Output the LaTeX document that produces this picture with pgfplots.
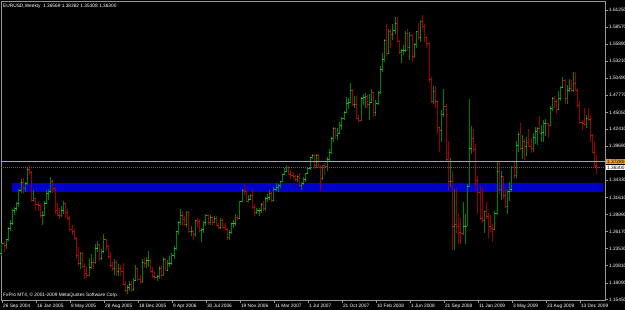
\documentclass[border=0pt]{standalone}
\usepackage{fontspec}
\setmainfont{Liberation Sans}
\usepackage{pgfplots}
\usepackage{pgfplotstable}
\pgfplotsset{compat=1.18}
\definecolor{upc}{RGB}{0,128,0}
\definecolor{upt}{RGB}{20,200,20}
\definecolor{dnc}{RGB}{150,0,0}
\definecolor{dnt}{RGB}{200,15,15}
\definecolor{band}{RGB}{0,0,200}
\definecolor{hline}{RGB}{240,160,30}
\definecolor{frame}{RGB}{150,150,150}
\definecolor{bidc}{RGB}{95,95,95}
\newcommand\tf{\fontsize{4.8bp}{5.6bp}\selectfont}
\pgfplotstableread{
i o h l c
0 1.2270 1.2440 1.2230 1.2430
1 1.2430 1.2460 1.2300 1.2400
2 1.2400 1.2510 1.2340 1.2500
3 1.2500 1.2690 1.2470 1.2670
4 1.2670 1.2810 1.2630 1.2750
5 1.2750 1.2970 1.2720 1.2960
6 1.2960 1.3010 1.2880 1.2980
7 1.2980 1.3080 1.2950 1.3060
8 1.3060 1.3290 1.3010 1.3270
9 1.3270 1.3450 1.3230 1.3400
10 1.3400 1.3460 1.3220 1.3300
11 1.3300 1.3400 1.3250 1.3390
12 1.3390 1.3620 1.3350 1.3600
13 1.3600 1.3667 1.3520 1.3560
14 1.3560 1.3580 1.3090 1.3120
15 1.3120 1.3270 1.3110 1.3140
16 1.3140 1.3150 1.2950 1.3050
17 1.3050 1.3100 1.2940 1.3040
18 1.3040 1.3060 1.2840 1.2870
19 1.2870 1.2950 1.2730 1.2870
20 1.2870 1.3110 1.2860 1.3060
21 1.3060 1.3270 1.3050 1.3230
22 1.3230 1.3300 1.3120 1.3250
23 1.3250 1.3480 1.3230 1.3420
24 1.3420 1.3440 1.3230 1.3300
25 1.3300 1.3320 1.2900 1.2950
26 1.2950 1.3070 1.2860 1.2880
27 1.2880 1.2990 1.2820 1.2870
28 1.2870 1.3020 1.2850 1.2950
29 1.2950 1.3110 1.2900 1.3060
30 1.3060 1.3070 1.2830 1.2920
31 1.2920 1.2970 1.2800 1.2830
32 1.2830 1.2870 1.2630 1.2650
33 1.2650 1.2720 1.2560 1.2620
34 1.2620 1.2660 1.2480 1.2520
35 1.2520 1.2530 1.2180 1.2250
36 1.2250 1.2370 1.2080 1.2120
37 1.2120 1.2300 1.2030 1.2270
38 1.2270 1.2300 1.2050 1.2070
39 1.2070 1.2130 1.1870 1.1960
40 1.1960 1.2080 1.1880 1.1930
41 1.1930 1.2200 1.1920 1.2060
42 1.2060 1.2260 1.2020 1.2140
43 1.2140 1.2200 1.2020 1.2130
44 1.2130 1.2420 1.2100 1.2360
45 1.2360 1.2470 1.2300 1.2420
46 1.2420 1.2430 1.2150 1.2200
47 1.2200 1.2350 1.2170 1.2300
48 1.2300 1.2580 1.2280 1.2500
49 1.2500 1.2520 1.2320 1.2390
50 1.2390 1.2410 1.2180 1.2230
51 1.2230 1.2290 1.2050 1.2080
52 1.2080 1.2140 1.1990 1.2030
53 1.2030 1.2180 1.1940 1.2130
54 1.2130 1.2170 1.1920 1.1990
55 1.1990 1.2100 1.1910 1.2040
56 1.2040 1.2090 1.1910 1.1990
57 1.1990 1.2130 1.1780 1.1790
58 1.1790 1.1840 1.1670 1.1690
59 1.1690 1.1780 1.1640 1.1730
60 1.1730 1.1830 1.1680 1.1790
61 1.1790 1.1830 1.1660 1.1710
62 1.1710 1.1890 1.1680 1.1850
63 1.1850 1.2090 1.1830 1.2040
64 1.2040 1.2050 1.1830 1.1860
65 1.1860 1.1930 1.1790 1.1840
66 1.1840 1.2180 1.1800 1.2140
67 1.2140 1.2200 1.2040 1.2120
68 1.2120 1.2220 1.2040 1.2160
69 1.2160 1.2320 1.2060 1.2170
70 1.2170 1.2180 1.1970 1.1990
71 1.1990 1.2060 1.1880 1.1910
72 1.1910 1.1980 1.1860 1.1900
73 1.1900 1.1940 1.1830 1.1910
74 1.1910 1.2080 1.1870 1.2030
75 1.2030 1.2090 1.1890 1.1920
76 1.1920 1.2220 1.1920 1.2180
77 1.2180 1.2200 1.1990 1.2010
78 1.2010 1.2170 1.2000 1.2120
79 1.2120 1.2230 1.2060 1.2120
80 1.2120 1.2280 1.2090 1.2240
81 1.2240 1.2390 1.2190 1.2350
82 1.2350 1.2630 1.2330 1.2620
83 1.2620 1.2780 1.2560 1.2760
84 1.2760 1.2980 1.2720 1.2880
85 1.2880 1.2950 1.2720 1.2810
86 1.2810 1.2860 1.2700 1.2730
87 1.2730 1.2950 1.2690 1.2920
88 1.2920 1.2950 1.2600 1.2620
89 1.2620 1.2700 1.2550 1.2620
90 1.2620 1.2640 1.2480 1.2570
91 1.2570 1.2810 1.2530 1.2790
92 1.2790 1.2830 1.2670 1.2780
93 1.2780 1.2820 1.2610 1.2640
94 1.2640 1.2680 1.2460 1.2660
95 1.2660 1.2780 1.2590 1.2760
96 1.2760 1.2890 1.2700 1.2880
97 1.2880 1.2900 1.2730 1.2760
98 1.2760 1.2880 1.2720 1.2850
99 1.2850 1.2860 1.2730 1.2760
100 1.2760 1.2870 1.2750 1.2830
101 1.2830 1.2860 1.2700 1.2720
102 1.2720 1.2760 1.2660 1.2690
103 1.2690 1.2830 1.2660 1.2800
104 1.2800 1.2830 1.2660 1.2690
105 1.2690 1.2760 1.2640 1.2660
106 1.2660 1.2670 1.2480 1.2530
107 1.2530 1.2640 1.2490 1.2610
108 1.2610 1.2760 1.2580 1.2750
109 1.2750 1.2800 1.2680 1.2750
110 1.2750 1.2900 1.2710 1.2840
111 1.2840 1.2880 1.2790 1.2830
112 1.2830 1.3110 1.2820 1.3090
113 1.3090 1.3300 1.3080 1.3270
114 1.3270 1.3370 1.3200 1.3260
115 1.3260 1.3280 1.3080 1.3100
116 1.3100 1.3200 1.3080 1.3130
117 1.3130 1.3220 1.3120 1.3200
118 1.3200 1.3290 1.2990 1.3000
119 1.3000 1.3050 1.2870 1.2930
120 1.2930 1.3000 1.2900 1.2950
121 1.2950 1.3000 1.2870 1.2960
122 1.2960 1.3070 1.2920 1.3050
123 1.3050 1.3100 1.2940 1.2990
124 1.2990 1.3160 1.2940 1.3140
125 1.3140 1.3220 1.3090 1.3160
126 1.3160 1.3270 1.3120 1.3220
127 1.3220 1.3240 1.3080 1.3120
128 1.3120 1.3330 1.3100 1.3290
129 1.3290 1.3390 1.3260 1.3320
130 1.3320 1.3380 1.3240 1.3350
131 1.3350 1.3420 1.3310 1.3410
132 1.3410 1.3530 1.3400 1.3520
133 1.3520 1.3620 1.3510 1.3580
134 1.3580 1.3680 1.3560 1.3630
135 1.3630 1.3650 1.3510 1.3530
136 1.3530 1.3600 1.3450 1.3510
137 1.3510 1.3560 1.3450 1.3500
138 1.3500 1.3510 1.3420 1.3440
139 1.3440 1.3520 1.3400 1.3500
140 1.3500 1.3540 1.3330 1.3350
141 1.3350 1.3410 1.3270 1.3380
142 1.3380 1.3480 1.3360 1.3450
143 1.3450 1.3550 1.3400 1.3540
144 1.3540 1.3640 1.3530 1.3620
145 1.3620 1.3800 1.3600 1.3790
146 1.3790 1.3850 1.3760 1.3830
147 1.3830 1.3850 1.3610 1.3660
148 1.3660 1.3840 1.3630 1.3830
149 1.3830 1.3850 1.3620 1.3640
150 1.3640 1.3680 1.3260 1.3460
151 1.3460 1.3680 1.3440 1.3670
152 1.3670 1.3700 1.3520 1.3650
153 1.3650 1.3800 1.3580 1.3770
154 1.3770 1.3930 1.3730 1.3870
155 1.3870 1.4120 1.3850 1.4090
156 1.4090 1.4280 1.4040 1.4260
157 1.4260 1.4280 1.4080 1.4140
158 1.4140 1.4260 1.4070 1.4180
159 1.4180 1.4350 1.4170 1.4300
160 1.4300 1.4430 1.4230 1.4410
161 1.4410 1.4530 1.4380 1.4500
162 1.4500 1.4750 1.4490 1.4650
163 1.4650 1.4730 1.4560 1.4660
164 1.4660 1.4970 1.4650 1.4850
165 1.4850 1.4880 1.4600 1.4630
166 1.4630 1.4760 1.4580 1.4640
167 1.4640 1.4760 1.4400 1.4410
168 1.4410 1.4460 1.4340 1.4380
169 1.4380 1.4750 1.4370 1.4720
170 1.4720 1.4790 1.4620 1.4740
171 1.4740 1.4810 1.4580 1.4760
172 1.4760 1.4780 1.4570 1.4630
173 1.4630 1.4790 1.4380 1.4670
174 1.4670 1.4870 1.4650 1.4820
175 1.4820 1.4830 1.4440 1.4500
176 1.4500 1.4700 1.4450 1.4650
177 1.4650 1.4850 1.4620 1.4820
178 1.4820 1.5240 1.4800 1.5180
179 1.5180 1.5450 1.5140 1.5350
180 1.5350 1.5660 1.5310 1.5650
181 1.5650 1.5900 1.5390 1.5440
182 1.5440 1.5820 1.5430 1.5790
183 1.5790 1.5830 1.5520 1.5740
184 1.5740 1.5910 1.5650 1.5800
185 1.5800 1.6020 1.5750 1.5920
186 1.5920 1.6020 1.5620 1.5630
187 1.5630 1.5650 1.5430 1.5460
188 1.5460 1.5510 1.5290 1.5480
189 1.5480 1.5570 1.5420 1.5480
190 1.5480 1.5790 1.5460 1.5760
191 1.5760 1.5820 1.5480 1.5540
192 1.5540 1.5780 1.5330 1.5720
193 1.5720 1.5750 1.5300 1.5390
194 1.5390 1.5600 1.5360 1.5580
195 1.5580 1.5800 1.5530 1.5790
196 1.5790 1.5920 1.5650 1.5690
197 1.5690 1.5960 1.5620 1.5940
198 1.5940 1.6040 1.5820 1.5860
199 1.5860 1.5900 1.5620 1.5700
200 1.5700 1.5700 1.5530 1.5600
201 1.5600 1.5620 1.4980 1.5020
202 1.5020 1.5060 1.4660 1.4680
203 1.4680 1.4930 1.4630 1.4840
204 1.4840 1.4920 1.4580 1.4680
205 1.4680 1.4680 1.4160 1.4270
206 1.4270 1.4280 1.3880 1.4220
207 1.4220 1.4540 1.4030 1.4480
208 1.4480 1.4870 1.4440 1.4600
209 1.4600 1.4640 1.3740 1.3760
210 1.3760 1.4050 1.3260 1.3410
211 1.3410 1.3780 1.3330 1.3410
212 1.3410 1.3580 1.2330 1.2700
213 1.2700 1.3300 1.2330 1.2730
214 1.2730 1.3300 1.2600 1.2710
215 1.2710 1.2890 1.2420 1.2610
216 1.2610 1.2830 1.2430 1.2590
217 1.2590 1.3090 1.2560 1.2700
218 1.2700 1.2900 1.2420 1.2700
219 1.2700 1.3380 1.2700 1.3340
220 1.3340 1.4720 1.3330 1.3940
221 1.3940 1.4290 1.3850 1.4090
222 1.4090 1.4240 1.3880 1.3920
223 1.3920 1.4000 1.3310 1.3430
224 1.3430 1.3500 1.2890 1.3240
225 1.3240 1.3340 1.2800 1.2830
226 1.2830 1.3310 1.2760 1.2800
227 1.2800 1.2940 1.2600 1.2940
228 1.2940 1.3090 1.2820 1.2860
229 1.2860 1.2920 1.2520 1.2710
230 1.2710 1.2880 1.2610 1.2670
231 1.2670 1.2740 1.2460 1.2660
232 1.2660 1.2950 1.2640 1.2910
233 1.2910 1.3740 1.2880 1.3580
234 1.3580 1.3740 1.3220 1.3280
235 1.3280 1.3580 1.3120 1.3490
236 1.3490 1.3500 1.3140 1.3200
237 1.3200 1.3310 1.2990 1.3020
238 1.3020 1.3270 1.2890 1.3260
239 1.3260 1.3400 1.3110 1.3280
240 1.3280 1.3650 1.3250 1.3640
241 1.3640 1.3740 1.3450 1.3510
242 1.3510 1.4050 1.3470 1.3990
243 1.3990 1.4190 1.3880 1.4150
244 1.4150 1.4340 1.3920 1.3930
245 1.3930 1.4140 1.3760 1.4040
246 1.4040 1.4080 1.3750 1.3970
247 1.3970 1.4110 1.3820 1.4030
248 1.4030 1.4240 1.3960 1.3970
249 1.3970 1.4100 1.3860 1.3930
250 1.3930 1.4180 1.3880 1.4110
251 1.4110 1.4280 1.4010 1.4200
252 1.4200 1.4270 1.3990 1.4260
253 1.4260 1.4450 1.4180 1.4180
254 1.4180 1.4300 1.4040 1.4190
255 1.4190 1.4380 1.4040 1.4330
256 1.4330 1.4400 1.4130 1.4330
257 1.4330 1.4340 1.4100 1.4300
258 1.4300 1.4600 1.4290 1.4570
259 1.4570 1.4750 1.4530 1.4720
260 1.4720 1.4760 1.4580 1.4680
261 1.4680 1.4720 1.4480 1.4550
262 1.4550 1.4840 1.4540 1.4720
263 1.4720 1.4930 1.4690 1.4900
264 1.4900 1.5060 1.4890 1.5010
265 1.5010 1.5030 1.4630 1.4720
266 1.4720 1.4940 1.4630 1.4850
267 1.4850 1.5030 1.4830 1.4890
268 1.4890 1.5010 1.4820 1.4860
269 1.4860 1.5140 1.4830 1.4970
270 1.4970 1.5140 1.4840 1.4860
271 1.4860 1.4870 1.4580 1.4610
272 1.4610 1.4690 1.4330 1.4340
273 1.4340 1.4380 1.4220 1.4330
274 1.4330 1.4580 1.4300 1.4320
275 1.4320 1.4460 1.4260 1.4410
276 1.4410 1.4580 1.4370 1.4390
277 1.4390 1.4460 1.4030 1.4140
278 1.4140 1.4160 1.3870 1.3870
279 1.3870 1.4040 1.3640 1.3660
280 1.36569 1.38382 1.35308 1.36300
}\bars
\begin{document}
\begin{tikzpicture}
\fill[black] (0,0) rectangle (625bp,310bp);
\path[use as bounding box] (0,0) rectangle (625bp,310bp);
\begin{axis}[
  scale only axis, width=604bp, height=299bp,
  at={(1bp,10bp)}, anchor=south west,
  xmin=-0.47, xmax=283.8, ymin=1.15372, ymax=1.62674,
  axis line style={draw=frame, line width=0.8bp},
  tick style={draw=frame, line width=0.6bp},
  tick align=outside, major tick length=3bp,
  xtick pos=left, ytick pos=right, yticklabel pos=right,
  xtick={0,16,...,272},
  xticklabels={26 Sep 2004,16 Jan 2005,8 May 2005,28 Aug 2005,18 Dec 2005,9 Apr 2006,30 Jul 2006,19 Nov 2006,11 Mar 2007,1 Jul 2007,21 Oct 2007,10 Feb 2008,1 Jun 2008,21 Sep 2008,11 Jan 2009,3 May 2009,23 Aug 2009,13 Dec 2009},
  ytick={1.61250,1.58570,1.55890,1.53210,1.50490,1.47770,1.45050,1.42410,1.39690,1.34330,1.31610,1.28890,1.26170,1.23530,1.20810,1.18090,1.15450},
  yticklabels={1.61250,1.58570,1.55890,1.53210,1.50490,1.47770,1.45050,1.42410,1.39690,1.34330,1.31610,1.28890,1.26170,1.23530,1.20810,1.18090,1.15450},
  ticklabel style={font=\tf, text=white},
  xticklabel style={anchor=north west, inner sep=0.6bp, xshift=0.3bp},
  yticklabel style={anchor=west, inner sep=0.8bp},
  /pgf/number format/assume math mode=true,
]
% support band
\addplot[fill=band, draw=none] coordinates {(4.7,1.3245) (282.8,1.3245) (282.8,1.3388) (4.7,1.3388)};
% up bars
\addplot[only marks, mark=-, mark size=0.8bp, mark options={draw=upt, xshift=0.8bp, line width=0.7bp},
  error bars/.cd, y dir=both, y explicit, error mark=none,
  error bar style={draw=upc, line width=1bp}]
  table[x=i, y expr={\thisrow{c}>=\thisrow{o} ? \thisrow{c} : nan},
        y error plus expr={\thisrow{h}-\thisrow{c}},
        y error minus expr={\thisrow{c}-\thisrow{l}}] {\bars};
\addplot[only marks, mark=-, mark size=0.8bp, mark options={draw=upt, xshift=-0.8bp, line width=0.7bp}]
  table[x=i, y expr={\thisrow{c}>=\thisrow{o} ? \thisrow{o} : nan}] {\bars};
% down bars
\addplot[only marks, mark=-, mark size=0.8bp, mark options={draw=dnt, xshift=0.8bp, line width=0.7bp},
  error bars/.cd, y dir=both, y explicit, error mark=none,
  error bar style={draw=dnc, line width=1bp}]
  table[x=i, y expr={\thisrow{c}<\thisrow{o} ? \thisrow{c} : nan},
        y error plus expr={\thisrow{h}-\thisrow{c}},
        y error minus expr={\thisrow{c}-\thisrow{l}}] {\bars};
\addplot[only marks, mark=-, mark size=0.8bp, mark options={draw=dnt, xshift=-0.8bp, line width=0.7bp}]
  table[x=i, y expr={\thisrow{c}<\thisrow{o} ? \thisrow{o} : nan}] {\bars};
% horizontal lines
\addplot[draw=bidc, line width=0.7bp, dash pattern=on 1bp off 1bp] coordinates {(-0.47,1.3630) (283.8,1.3630)};
\addplot[draw=hline, line width=0.9bp] coordinates {(-0.47,1.3728) (283.8,1.3728)};
\coordinate (po) at (axis cs:283.8,1.3728);
\coordinate (pb) at (axis cs:283.8,1.3630);
\coordinate (tl) at (rel axis cs:0,1);
\coordinate (bl) at (rel axis cs:0,0);
\end{axis}
\node[anchor=north west, font=\tf, text=white, inner sep=0pt, xshift=2bp, yshift=-2.5bp] at (tl) {EURUSD,Weekly\ \ 1.36569 1.38382 1.35308 1.36300};
\node[anchor=south west, font=\tf, text=white, inner sep=0pt, xshift=2bp, yshift=2bp] at (bl) {FxPro MT4, © 2001-2009 MetaQuotes Software Corp.};
\node[anchor=west, fill=white, text=black, font=\tf, inner sep=0.7bp, xshift=1.2bp] at (pb) {1.36300};
\node[anchor=west, fill=hline, text=black, font=\tf, inner sep=0.7bp, xshift=1.2bp] at (po) {1.37280};
\end{tikzpicture}
\end{document}
